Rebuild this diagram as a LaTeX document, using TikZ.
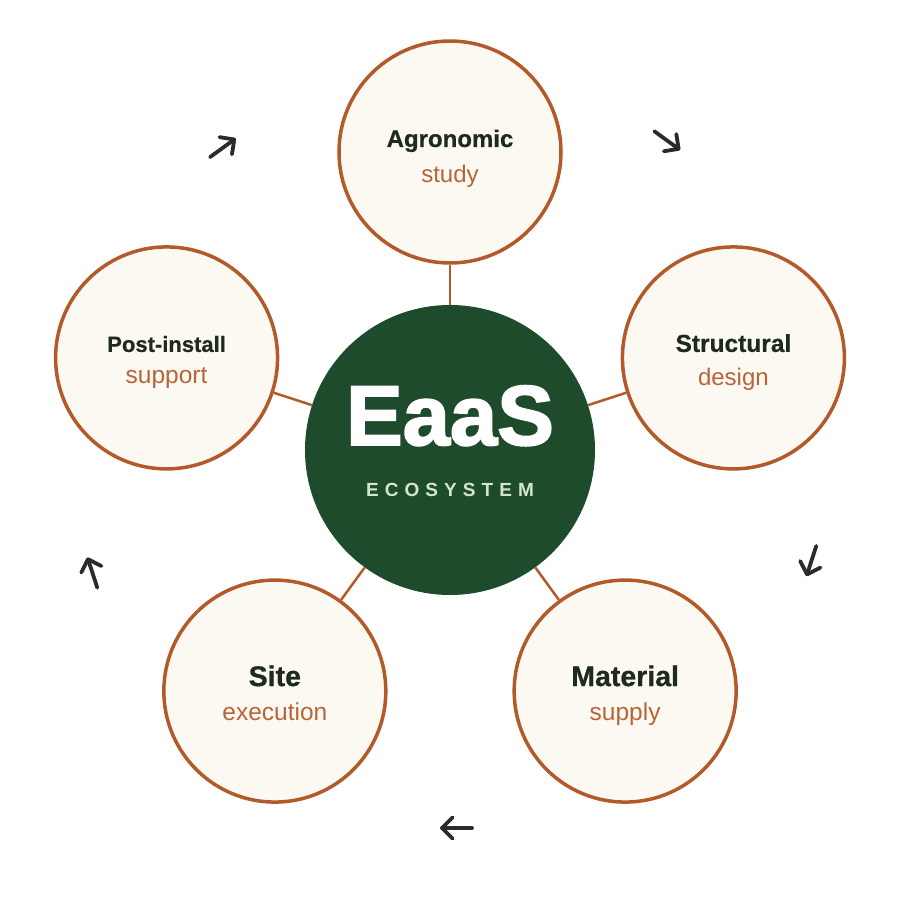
\documentclass[tikz,border=0pt]{standalone}
\usepackage{fontspec}
\setmainfont{Liberation Sans}
\usetikzlibrary{calc}
\definecolor{brownc}{HTML}{B35A2B}
\definecolor{subc}{HTML}{B8643A}
\definecolor{creamc}{HTML}{FBF9F1}
\definecolor{greenc}{HTML}{1F4B2D}
\definecolor{darkc}{HTML}{1F2A1F}
\definecolor{lightg}{HTML}{D3E6CC}
\definecolor{arrc}{HTML}{2B2B2B}
\begin{document}
\begin{tikzpicture}[x=1pt,y=1pt,
  outer/.style={circle,draw=brownc,line width=3.5pt,fill=creamc,minimum size=222pt,inner sep=0pt},
  hub/.style={circle,fill=greenc,minimum size=290pt,inner sep=0pt},
  link/.style={draw=brownc,line width=2.5pt},
  ttl/.style={anchor=base,text=darkc,inner sep=0pt},
  sub/.style={anchor=base,text=subc,inner sep=0pt},
  cyc/.style={draw=arrc,line width=3.8pt,line cap=round,line join=round}]
\useasboundingbox (-450,-450) rectangle (450,450);
\fill[white] (-450,-450) rectangle (450,450);
\node[hub] (c) at (0,0) {};
\node[outer] (n1) at (90:298) {};
\node[outer] (n2) at (18:298) {};
\node[outer] (n3) at (-54:298) {};
\node[outer] (n4) at (-126:298) {};
\node[outer] (n5) at (162:298) {};
\foreach \n in {n1,n2,n3,n4,n5} \draw[link] (c) -- (\n);
% texts
\node[ttl,font=\bfseries\fontsize{24}{28}\selectfont\addfontfeature{FakeBold=0.6}] (t1) at ($(n1)+(0,5)$) {Agronomic};
\node[sub,font=\fontsize{24}{28}\selectfont] (s1) at ($(n1)+(0,-31)$) {study};
\node[ttl,font=\bfseries\fontsize{24.5}{28}\selectfont\addfontfeature{FakeBold=0.6}] (t2) at ($(n2)+(0,6)$) {Structural};
\node[sub,font=\fontsize{24}{28}\selectfont] (s2) at ($(n2)+(0,-28)$) {design};
\node[ttl,font=\bfseries\fontsize{28.5}{32}\selectfont\addfontfeature{FakeBold=0.6}] (t3) at ($(n3)+(0,5)$) {Material};
\node[sub,font=\fontsize{24.5}{28}\selectfont] (s3) at ($(n3)+(0,-29)$) {supply};
\node[ttl,font=\bfseries\fontsize{28.5}{32}\selectfont\addfontfeature{FakeBold=0.6}] (t4) at ($(n4)+(0,5)$) {Site};
\node[sub,font=\fontsize{24.5}{28}\selectfont] (s4) at ($(n4)+(0,-29)$) {execution};
\node[ttl,font=\bfseries\fontsize{22}{26}\selectfont\addfontfeature{FakeBold=0.6}] (t5) at ($(n5)+(0,6)$) {Post-install};
\node[sub,font=\fontsize{24.5}{28}\selectfont] (s5) at ($(n5)+(0,-26)$) {support};
\node[anchor=base,text=white,font=\bfseries\fontsize{85}{90}\selectfont\addfontfeature{FakeBold=2.2},inner sep=0pt] (eaas) at (0,5) {EaaS};
\node[anchor=base,text=lightg,font=\bfseries\fontsize{19}{22}\selectfont\addfontfeature{LetterSpace=32},inner sep=0pt] (eco) at (0,-46) {ECOSYSTEM};
% cycle arrows
\foreach \a in {126,54,-18,-90,-162}{
  \coordinate (m) at ($(\a:378)+(\a-90:-7)$);
  \coordinate (tail) at ($(m)+(\a-90:-15)$);
  \coordinate (tip) at ($(m)+(\a-90:15)$);
  \draw[cyc] (tail) -- (tip);
  \draw[cyc] ($(tip)+(\a-90+135:15)$) -- (tip) -- ($(tip)+(\a-90-135:15)$);
}
\end{tikzpicture}
\end{document}
